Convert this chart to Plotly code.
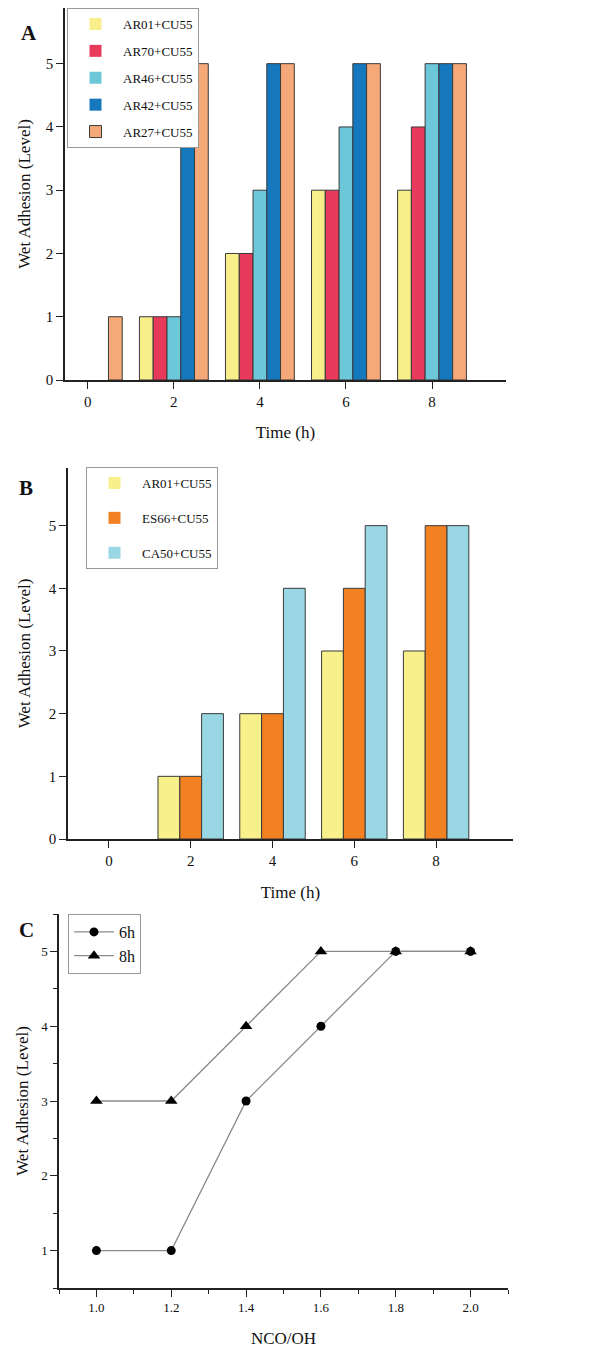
import plotly.graph_objects as go

# Panel A: wet adhesion over time, AR series
times = [0, 2, 4, 6, 8]
a_names = ["AR01+CU55", "AR70+CU55", "AR46+CU55", "AR42+CU55", "AR27+CU55"]
a_values = [
    [0, 1, 2, 3, 3],
    [0, 1, 2, 3, 4],
    [0, 1, 3, 4, 5],
    [0, 5, 5, 5, 5],
    [1, 5, 5, 5, 5],
]
a_colors = ["#F8EF8B", "#E83A5A", "#6CC7D9", "#1577BC", "#F5A878"]

# Panel B: three resin systems
b_names = ["AR01+CU55", "ES66+CU55", "CA50+CU55"]
b_values = [
    [0, 1, 2, 3, 3],
    [0, 1, 2, 4, 5],
    [0, 2, 4, 5, 5],
]
b_colors = ["#F8F08A", "#F28122", "#9AD7E4"]

# Panel C: effect of NCO/OH ratio
ratio = [1.0, 1.2, 1.4, 1.6, 1.8, 2.0]
c_names = ["6h", "8h"]
c_values = [
    [1, 1, 3, 4, 5, 5],
    [3, 3, 4, 5, 5, 5],
]
c_symbols = ["circle", "triangle-up"]
c_sizes = [9, 11]

W, H = 590, 1354
OFF = 8  # the page body adds an 8px margin around the figure
serif = "Liberation Serif, Times New Roman, serif"

fig = go.Figure()


def outline(vals):
    # no outline on empty (zero) bars, so nothing is drawn on the baseline
    return dict(color="#3a3a3a", width=[1 if v else 0 for v in vals])


for i, name in enumerate(a_names):
    fig.add_trace(go.Bar(
        x=times, y=a_values[i], name=name, legendgroup="a" + str(i),
        marker=dict(color=a_colors[i], line=outline(a_values[i])),
        xaxis="x", yaxis="y", legend="legend",
    ))

for i, name in enumerate(b_names):
    fig.add_trace(go.Bar(
        x=times, y=b_values[i], name=name, legendgroup="b" + str(i),
        marker=dict(color=b_colors[i], line=outline(b_values[i])),
        xaxis="x2", yaxis="y2", legend="legend2",
    ))

for i, name in enumerate(c_names):
    fig.add_trace(go.Scatter(
        x=ratio, y=c_values[i], name=name, mode="lines+markers",
        line=dict(color="#8a8a8a", width=1.3),
        marker=dict(symbol=c_symbols[i], color="black", size=c_sizes[i]),
        xaxis="x3", yaxis="y3", legend="legend3",
    ))


def px_x(p):
    return max(0, (p - OFF) / W)


def px_y(p):
    return min(1, 1 - (p - OFF) / H)


axis_common = dict(
    showline=True, linecolor="#222", linewidth=1.5,
    ticks="outside", ticklen=7, tickwidth=1.3, tickcolor="#222",
    showgrid=False, zeroline=False, automargin=False,
    tickfont=dict(family=serif, size=15, color="#111"),
)
small_ticks = {**axis_common, "tickfont": dict(family=serif, size=13, color="#111")}
title_font = dict(family=serif, size=17, color="#111")

fig.update_layout(
    width=W, height=H,
    margin=dict(l=0, r=0, t=0, b=0),
    paper_bgcolor="white", plot_bgcolor="white",
    barmode="group", bargap=0.2, bargroupgap=0,
    font=dict(family=serif, color="#111"),
    xaxis=dict(domain=[px_x(65), px_x(506)], anchor="y", range=[-0.53, 9.72],
               tickvals=times, title=dict(text="Time (h)", font=title_font, standoff=17),
               **axis_common),
    yaxis=dict(domain=[px_y(380), px_y(8)], anchor="x", range=[0, 5.88], dtick=1,
               title=dict(text="Wet Adhesion (Level)", font=title_font, standoff=11),
               **axis_common),
    xaxis2=dict(domain=[px_x(68), px_x(513)], anchor="y2", range=[-1.0, 9.88],
                tickvals=times, title=dict(text="Time (h)", font=title_font, standoff=18),
                **axis_common),
    yaxis2=dict(domain=[px_y(839), px_y(468)], anchor="x2", range=[0, 5.92], dtick=1,
                title=dict(text="Wet Adhesion (Level)", font=title_font, standoff=14),
                **axis_common),
    xaxis3=dict(domain=[px_x(59), px_x(508)], anchor="y3", range=[0.9, 2.1],
                dtick=0.2, tick0=1.0, tickformat=".1f",
                minor=dict(dtick=0.1, ticks="outside", ticklen=4, tickcolor="#222"),
                title=dict(text="NCO/OH", font=title_font, standoff=18),
                **small_ticks),
    yaxis3=dict(domain=[px_y(1288), px_y(914)], anchor="x3", range=[0.5, 5.5], dtick=1,
                minor=dict(dtick=0.5, ticks="outside", ticklen=4, tickcolor="#222"),
                title=dict(text="Wet Adhesion (Level)", font=title_font, standoff=8),
                **small_ticks),
    legend=dict(x=px_x(67), y=px_y(8), xanchor="left", yanchor="top",
                bordercolor="#999", borderwidth=1, bgcolor="white",
                font=dict(family=serif, size=13), traceorder="grouped",
                tracegroupgap=7, itemwidth=45),
    legend2=dict(x=px_x(86), y=px_y(467), xanchor="left", yanchor="top",
                 bordercolor="#999", borderwidth=1, bgcolor="white",
                 font=dict(family=serif, size=13), traceorder="grouped",
                 tracegroupgap=15, itemwidth=45),
    legend3=dict(x=px_x(68), y=px_y(914), xanchor="left", yanchor="top",
                 bordercolor="#999", borderwidth=1, bgcolor="white",
                 font=dict(family=serif, size=16), itemwidth=40),
)

# Panel letters
for letter, (lx, ly) in {"A": (29, 33), "B": (26, 488), "C": (26, 930)}.items():
    fig.add_annotation(text="<b>" + letter + "</b>", x=px_x(lx), y=px_y(ly),
                       xref="paper", yref="paper", xanchor="center", yanchor="middle",
                       showarrow=False, font=dict(family=serif, size=21, color="#111"))

fig.write_html("out.html")
